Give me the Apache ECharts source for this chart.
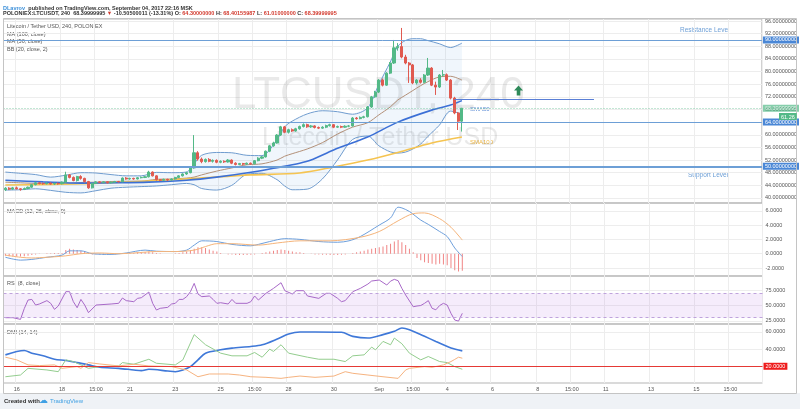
<!DOCTYPE html>
<html><head><meta charset="utf-8">
<script src="https://cdn.jsdelivr.net/npm/echarts@6/dist/echarts.min.js"></script>
<style>html,body{margin:0;padding:0;background:#fff}#c{width:800px;height:409px}</style>
</head><body><div id="c"></div>
<script>
// ---------- categories (4h bars, exchange time) ----------
const barCount = 201;
const startMs = Date.UTC(2017, 7, 15, 15, 0);
const categories = Array.from({length: barCount}, (_, i) =>
  new Date(startMs + i * 4 * 3600000).toISOString().slice(0, 16).replace('T', ' '));
const xTickLabels = {
  '2017-08-16 03:00': '16', '2017-08-18 03:00': '18', '2017-08-19 15:00': '15:00', '2017-08-21 03:00': '21',
  '2017-08-23 03:00': '23', '2017-08-25 03:00': '25', '2017-08-26 15:00': '15:00', '2017-08-28 03:00': '28',
  '2017-08-30 03:00': '30', '2017-09-01 03:00': 'Sep', '2017-09-02 15:00': '15:00', '2017-09-04 03:00': '4',
  '2017-09-06 03:00': '6', '2017-09-08 03:00': '8', '2017-09-09 15:00': '15:00', '2017-09-11 03:00': '11',
  '2017-09-13 03:00': '13', '2017-09-15 03:00': '15', '2017-09-16 15:00': '15:00'
};

// ---------- candles: [open, close, low, high] ----------
const ohlc = [
[42.6,43.1,42.2,43.4],[43.1,42.8,42.5,43.4],[42.8,43.2,42.6,43.5],[43.2,42.9,42.7,43.6],[42.9,42.7,42.3,43.1],
[42.7,43.0,42.5,43.3],[43.0,43.4,42.8,43.6],[43.4,44.2,43.2,44.4],[44.2,44.8,44.0,45.1],[44.8,44.6,44.3,45.0],
[44.6,44.5,44.2,44.9],[44.5,44.7,44.3,45.0],[44.7,44.4,44.2,44.9],[44.4,44.6,44.1,44.8],[44.6,44.5,44.2,44.9],
[44.5,45.0,44.3,45.2],[45.0,47.3,44.9,48.3],[47.3,46.5,46.2,47.6],[46.5,45.5,45.3,46.8],[45.5,46.8,45.2,47.0],
[46.8,46.2,45.8,47.2],[46.2,45.2,44.9,46.4],[45.2,43.2,42.9,45.4],[43.2,44.6,43.0,44.8],[44.6,45.1,44.4,45.3],
[45.1,44.9,44.7,45.3],[44.9,45.1,44.7,45.3],[45.1,44.8,44.6,45.3],[44.8,45.0,44.6,45.2],[45.0,45.2,44.8,45.4],
[45.2,45.1,44.9,45.4],[45.1,46.3,45.0,46.5],[46.3,46.0,45.8,46.6],[46.0,46.2,45.8,46.4],[46.2,46.0,45.8,46.4],
[46.0,46.4,45.9,46.6],[46.4,46.5,46.2,46.8],[46.5,46.7,46.3,47.0],[46.7,48.2,46.5,48.6],[48.2,47.0,46.8,48.4],
[47.0,45.8,45.5,47.2],[45.8,45.6,45.3,46.0],[45.6,45.9,45.4,46.1],[45.9,45.7,45.4,46.1],[45.7,46.0,45.5,46.2],
[46.0,46.5,45.8,46.7],[46.5,47.0,46.3,47.2],[47.0,47.6,46.8,47.8],[47.6,48.0,47.3,48.3],[48.0,49.5,47.8,49.8],
[49.5,54.3,49.3,59.9],[54.3,52.3,51.8,54.8],[52.3,51.5,51.0,52.8],[51.5,52.2,51.2,52.5],[52.2,51.6,51.3,52.6],
[51.6,51.9,51.2,52.2],[51.9,51.3,51.0,52.2],[51.3,51.6,51.0,51.9],[51.6,51.4,51.1,51.9],[51.4,52.0,51.2,52.3],
[52.0,51.0,50.7,52.2],[51.0,50.6,50.3,51.3],[50.6,50.9,50.4,51.1],[50.9,50.7,50.4,51.1],[50.7,51.0,50.5,51.2],
[51.0,50.8,50.5,51.2],[50.8,51.8,50.6,52.0],[51.8,52.6,51.6,52.9],[52.6,53.0,52.3,53.3],[53.0,54.8,52.8,55.0],
[54.8,56.5,54.5,56.8],[56.5,57.4,56.2,57.8],[57.4,59.9,57.2,60.2],[59.9,62.5,59.6,62.8],[62.5,60.8,60.5,62.8],
[60.8,61.6,60.4,61.9],[61.6,61.2,60.9,62.0],[61.2,61.9,61.0,62.2],[61.9,62.6,61.6,62.9],[62.6,63.2,62.3,63.6],
[63.2,62.5,62.2,63.5],[62.5,62.8,62.2,63.1],[62.8,62.3,62.0,63.0],[62.3,62.1,61.8,62.6],[62.1,62.4,61.9,62.7],
[62.4,62.9,62.1,63.2],[62.9,63.2,62.6,63.5],[63.2,62.4,62.1,63.4],[62.4,62.6,62.2,62.9],[62.6,62.4,62.1,62.9],
[62.4,62.7,62.2,63.0],[62.7,62.8,62.4,63.1],[62.8,65.3,62.6,65.6],[65.3,65.1,64.8,65.6],[65.1,65.5,64.9,65.8],
[65.5,65.7,65.2,66.0],[65.7,68.8,65.5,69.1],[68.8,72.0,68.5,72.3],[72.0,73.5,71.7,73.9],[73.5,77.3,73.2,77.6],
[77.3,75.7,75.3,77.8],[75.7,79.5,75.5,79.8],[79.5,82.7,79.2,83.0],[82.7,87.5,82.4,90.0],[87.5,87.9,86.6,89.0],
[87.9,84.6,84.2,93.8],[84.6,82.7,82.3,85.3],[82.7,82.1,76.4,83.0],[82.1,76.4,76.0,82.4],[76.4,77.3,75.9,77.6],
[77.3,76.6,76.2,77.9],[76.6,78.9,76.3,79.2],[78.9,81.1,78.6,84.3],[81.1,75.7,75.4,81.4],[75.7,75.1,72.6,76.8],
[75.1,78.9,74.8,79.2],[78.9,79.0,78.4,80.5],[79.0,77.3,77.0,79.4],[77.3,71.6,71.2,77.6],[71.6,66.9,66.5,72.0],
[66.9,64.3,61.5,67.2],[64.3,68.39999995,61.01,68.40155987]
];

// ---------- Bollinger Bands (20, 2) read at bar indices ----------
const bbIdx   = [0,4,8,12,16,20,24,28,32,36,40,44,48,50,52,56,60,64,68,72,74,76,80,84,88,92,96,99,102,104,106,108,110,112,115,118,121];
const bbUpper = [48.2,47.8,47.4,46.6,47.2,48.0,47.9,47.4,47.0,47.0,48.1,48.0,48.2,50.8,53.5,54.4,54.3,53.5,53.4,58.5,62.5,64.3,66.6,67.6,67.3,66.5,68.5,76.0,83.0,88.0,89.8,90.4,90.4,89.8,88.8,87.6,89.0];
const bbBasis = [45.0,44.8,44.6,44.5,44.6,44.9,45.0,45.2,45.3,45.3,45.9,46.0,46.3,46.6,47.3,48.5,49.5,50.5,50.8,52.0,53.2,54.0,55.5,57.5,60.2,62.4,63.8,66.3,68.8,71.0,72.5,74.0,75.5,76.8,78.3,78.5,77.3];
const bbLower = [42.5,42.6,42.9,42.4,41.8,41.6,42.3,43.1,43.4,43.6,43.8,44.2,44.6,44.2,43.0,42.5,44.0,47.5,47.8,45.8,43.8,42.6,42.8,46.0,52.0,58.5,59.6,56.5,54.6,54.2,54.5,55.5,57.0,59.5,63.0,67.5,66.5];

// ---------- moving averages [barIndex, value] ----------
const ma50  = [[0,45.6],[10,45.1],[20,44.7],[30,44.8],[38,45.0],[48,45.6],[56,46.6],[66,48.3],[72,49.6],[78,51.0],[81,52.0],[87,55.2],[96,59.3],[104,64.0],[113,67.8],[118,69.4],[121,70.8]];
const ma100 = [[0,44.1],[20,44.5],[38,45.4],[50,46.2],[65,47.3],[78,47.9],[87,49.8],[96,52.0],[104,54.4],[113,57.4],[121,59.3]];

// ---------- drawn levels ----------
const levelPrices = [90, 64, 50];
const rayLevel = 71.3, rayFrom = 119, rayTo = 156;
const arrowBar = 136, arrowPrice = 74.0;

// ---------- MACD (12, 26, close, 9) ----------
const macdLine = [[0,-0.5],[4,-0.9],[7,-0.8],[11,-0.5],[15,-0.2],[17,0.4],[20,0.4],[23,0.0],[28,-0.1],[32,0.1],[37,0.5],[40,0.35],[45,0.3],[48,0.5],[50,1.2],[52,1.8],[56,1.7],[60,1.3],[65,1.1],[67,1.3],[70,1.7],[74,2.1],[78,2.0],[83,1.7],[88,1.6],[91,1.8],[94,2.4],[99,4.0],[102,5.0],[104,6.5],[105,6.4],[107,5.9],[110,4.7],[112,4.1],[115,3.1],[117,2.4],[119,0.8],[121,-0.4]];
const macdSignal = [[0,-0.2],[4,-0.5],[7,-0.6],[11,-0.5],[16,-0.3],[20,0.0],[25,0.1],[30,0.0],[34,0.1],[40,0.3],[45,0.3],[50,0.5],[53,1.0],[56,1.4],[60,1.4],[67,1.2],[72,1.5],[78,1.8],[86,1.8],[94,2.3],[99,3.1],[104,4.6],[108,5.6],[111,5.7],[115,4.9],[118,3.7],[121,1.9]];
const macdHist = [-0.3,-0.35,-0.4,-0.4,-0.4,-0.35,-0.3,-0.2,-0.1,-0.05,0.0,0.05,0.05,0.1,0.1,0.1,0.5,0.7,0.6,0.5,
0.4,0.3,0.1,-0.1,-0.1,-0.1,-0.15,-0.15,-0.1,-0.1,-0.05,0.05,0.1,0.1,0.1,0.2,0.2,0.25,0.3,0.2,
0.1,0.05,0.0,0.0,0.0,0.05,0.1,0.2,0.3,0.5,0.7,0.9,0.9,0.8,0.6,0.4,0.3,0.1,0.0,-0.1,
-0.1,-0.2,-0.2,-0.2,-0.2,-0.15,-0.1,0.0,0.1,0.2,0.3,0.4,0.5,0.6,0.5,0.4,0.3,0.2,0.2,0.1,
0.0,-0.05,-0.1,-0.1,-0.15,-0.15,-0.2,-0.2,-0.2,-0.15,-0.1,0.0,0.1,0.2,0.3,0.4,0.6,0.7,0.8,0.9,
1.0,1.2,1.4,1.7,1.9,1.6,1.2,0.7,0.2,-0.6,-0.9,-1.2,-1.3,-1.4,-1.5,-1.4,-1.5,-1.6,-2.0,-2.3,-2.5,-2.4];

// ---------- RSI (8) ----------
const rsi = [[0,30],[2,30],[4,27.3],[5,45],[6,59],[7,60],[8,50.8],[9,52.5],[11,58],[12,53.6],[13,43.7],[14,49.2],[16,72.7],[17,72.7],[18,56.3],[19,46.4],[20,60],[21,50.8],[22,38.3],[24,50.8],[28,52.5],[30,53.6],[31,62.3],[32,58],[34,56.3],[35,61.7],[36,62.8],[38,72.1],[39,53.6],[40,42.6],[41,45.4],[43,47],[44,52.5],[45,53.6],[46,60],[47,60],[48,64.5],[49,72.7],[50,86.3],[51,68.9],[52,64.5],[54,65.6],[55,60],[56,53.6],[57,54.6],[59,52.5],[60,60],[61,53.6],[64,53.6],[65,56.3],[66,65.6],[67,59],[69,70],[71,78.1],[73,87.4],[74,74.3],[76,68.9],[77,74.3],[79,74.3],[80,65.6],[83,61.7],[85,70],[86,70],[88,61.7],[89,56.3],[90,58],[92,72.7],[93,75.4],[94,78.1],[96,85.2],[97,90.2],[99,91.8],[101,83.6],[102,90],[103,92.9],[104,90.7],[105,78.1],[106,67.2],[108,48],[109,49.2],[110,50],[111,53.6],[112,58],[113,45.4],[114,43],[115,50],[116,53.6],[117,50.8],[118,37.2],[119,26.2],[120,24.5],[121,37.2]];
const rsiBands = [30, 70];

// ---------- DMI (14, 14) ----------
const adx = [[0,33.3],[5,38.4],[7,35.3],[10,32.2],[13,28.2],[16,26.7],[19,24.3],[22,21.6],[25,18.8],[30,17.6],[34,15.7],[36,14.9],[38,16.5],[43,14.5],[45,13.7],[47,15.7],[49,19.6],[51,27.5],[53,35.3],[57,39.2],[60,41.2],[65,43.1],[68,45.1],[72,51.8],[75,57.6],[78,60],[82,60],[89,59.6],[92,54.9],[96,52.9],[100,56.9],[103,60.8],[105,64.7],[107,62.7],[111,54.9],[114,49],[118,41.2],[121,38]];
const plusDI = [[0,7.8],[4,9.8],[6,17.6],[11,15.7],[14,13.7],[16,27.5],[18,25.5],[20,21.6],[22,17.6],[25,19.6],[30,20.4],[31,24.3],[34,22.4],[38,28.2],[40,23.5],[45,21.6],[47,27.5],[50,56.9],[53,45.1],[57,35.3],[60,32.2],[64,32.2],[66,36.1],[68,30.6],[70,40],[71,37.3],[73,45.1],[75,35.3],[80,30.6],[83,28.2],[87,28.2],[90,25.5],[92,32.2],[95,33.3],[97,42.4],[98,39.2],[100,49],[102,45.1],[103,52.9],[105,46.3],[107,35.3],[110,27.5],[112,31.4],[115,25.5],[117,24.3],[119,19.6],[121,16.5]];
const minusDI = [[0,30.6],[3,27.5],[6,21.6],[9,20.8],[13,21.6],[15,17.6],[19,19.6],[20,17.6],[22,24.3],[25,22.7],[30,20.4],[34,22.4],[38,20.4],[44,19.6],[48,15.7],[51,7.8],[54,11],[59,11],[62,9.8],[65,7.8],[69,7.1],[73,5.9],[75,7.1],[78,8.6],[82,7.1],[87,8.6],[90,13.7],[92,11.8],[96,9.8],[100,7.8],[104,5.9],[106,15.7],[107,17.6],[111,19.6],[113,18.8],[116,21.6],[118,25.5],[119,28],[120,30.6],[121,29.4]];
const dmiLevel = 20;

// ---------- axis tick values ----------
const priceTicks = [40,44,48,52,56,60,64,68,72,76,80,84,88,92,96];
const macdTicks = [-2,0,2,4,6];
const rsiTicks = [25,50,75];
const dmiTicks = [20,40,60];

// ================= chart =================
const FONT = 'Liberation Sans';
const last = ohlc[ohlc.length - 1];
const upColor = '#53b987', downColor = '#e05a50';
const gridLine = {show: true, lineStyle: {color: '#ededed', width: 1}};
const isTick = (i, v) => xTickLabels[v] !== undefined;

function xAx(g, showLabel) {
  return {
    type: 'category', gridIndex: g, data: categories, boundaryGap: true,
    axisLine: {show: false}, axisTick: {show: false},
    axisLabel: {show: showLabel, interval: isTick, formatter: v => xTickLabels[v] || '',
      fontSize: 5.5, color: '#555', margin: 3, fontFamily: FONT},
    splitLine: {show: true, interval: isTick, lineStyle: {color: '#ededed'}}
  };
}
function yAx(g, min, max, ticks, digits) {
  return {
    type: 'value', gridIndex: g, position: 'right', min: min, max: max,
    axisLine: {show: false},
    axisTick: {show: false, customValues: ticks},
    axisLabel: {customValues: ticks, formatter: v => Number(v).toFixed(digits),
      fontSize: 5.5, color: '#555', margin: 3, fontFamily: FONT},
    splitLine: gridLine
  };
}
function tag(bg, digits) {
  return {show: true, position: 'end', distance: 1, formatter: p => Number(p.value).toFixed(digits),
    color: '#fff', backgroundColor: bg, padding: [1, 2, 0, 2], fontSize: 5.5, fontFamily: FONT};
}
const pairs = (idx, vals) => idx.map((ix, k) => [ix, vals[k]]);

const gl = 3.5, gr = 37.5;
const option = {
  animation: false,
  backgroundColor: '#ffffff',
  grid: [
    {left: gl, right: gr, top: 19, height: 184, show: true, borderColor: '#b5b5b5', borderWidth: 1},
    {left: gl, right: gr, top: 203, height: 73, show: true, borderColor: '#b5b5b5', borderWidth: 1},
    {left: gl, right: gr, top: 276, height: 48, show: true, borderColor: '#b5b5b5', borderWidth: 1},
    {left: gl, right: gr, top: 324, height: 59, show: true, borderColor: '#b5b5b5', borderWidth: 1}
  ],
  xAxis: [xAx(0, false), xAx(1, false), xAx(2, false), xAx(3, true)],
  yAxis: [
    yAx(0, 38.41, 96.63, priceTicks, 8),
    yAx(1, -3.12, 7.09, macdTicks, 4),
    yAx(2, 19.7, 98.4, rsiTicks, 4),
    yAx(3, 0.5, 69.3, dmiTicks, 4)
  ],
  graphic: [
    {type: 'rect', z: -10, shape: {x: 0, y: 393, width: 800, height: 16}, style: {fill: '#eff2f6'}},
    {type: 'rect', z: 10, shape: {x: 3.5, y: 18.5, width: 793, height: 375}, style: {fill: 'none', stroke: '#c4c4c4', lineWidth: 1}},
    {type: 'text', left: 382 - 150, top: 74, z: 1, style: {text: 'LTCUSDT, 240', font: '44px "Liberation Sans"', fill: 'rgba(70,70,70,0.12)'}},
    {type: 'text', left: 262, top: 126, z: 1, style: {text: 'Litecoin / Tether USD', font: '25px "Liberation Sans"', fill: 'rgba(70,70,70,0.12)'}},
    {type: 'text', left: 3, top: 2, style: {text: '{u|DLavrov} {t|published on TradingView.com, September 04, 2017 22:16 MSK}',
      rich: {u: {fill: '#3b8fd9', fontSize: 5.5, fontWeight: 'bold', fontFamily: FONT}, t: {fill: '#333', fontSize: 5.5, fontWeight: 'bold', fontFamily: FONT}}}},
    {type: 'text', left: 3, top: 10, style: {
      text: '{t|POLONIEX:LTCUSDT, 240  ' + last[1].toFixed(8) + ' }{r|▼}{t| -10.50500011 (-13.31%) O: }{r|' + last[0].toFixed(8) + '}{t| H: }{r|' + last[3].toFixed(8) + '}{t| L: }{r|' + last[2].toFixed(8) + '}{t| C: }{r|' + last[1].toFixed(8) + '}',
      rich: {t: {fill: '#333', fontSize: 5.5, fontWeight: 'bold', fontFamily: FONT}, r: {fill: '#d23a2e', fontSize: 5.5, fontWeight: 'bold', fontFamily: FONT}}}},
    {type: 'text', left: 7, top: 23, style: {text: 'Litecoin / Tether USD, 240, POLONIEX', fill: '#555', font: '5.5px "Liberation Sans"'}},
    {type: 'text', left: 7, top: 31, style: {text: 'MA (100, close)', fill: '#555', font: '5.5px "Liberation Sans"'}},
    {type: 'text', left: 7, top: 38.5, style: {text: 'MA (50, close)', fill: '#555', font: '5.5px "Liberation Sans"'}},
    {type: 'text', left: 7, top: 46, style: {text: 'BB (20, close, 2)', fill: '#555', font: '5.5px "Liberation Sans"'}},
    {type: 'text', left: 7, top: 208.5, style: {text: 'MACD (12, 26, close, 9)', fill: '#555', font: '5.5px "Liberation Sans"'}},
    {type: 'text', left: 7, top: 280.5, style: {text: 'RSI (8, close)', fill: '#555', font: '5.5px "Liberation Sans"'}},
    {type: 'text', left: 7, top: 329.5, style: {text: 'DMI (14, 14)', fill: '#555', font: '5.5px "Liberation Sans"'}},
    {type: 'text', left: 680, top: 27, style: {text: 'Resistance Level', fill: '#6d9fd6', font: '6.5px "Liberation Sans"'}},
    {type: 'text', left: 688, top: 171.5, style: {text: 'Support Level', fill: '#6d9fd6', font: '6.5px "Liberation Sans"'}},
    {type: 'text', left: 470, top: 106.5, style: {text: 'SMA50', fill: '#5b8bd6', font: '6px "Liberation Sans"'}},
    {type: 'text', left: 470, top: 139.5, style: {text: 'SMA100', fill: '#f0b63e', font: '6px "Liberation Sans"'}},
    {type: 'text', left: 779, top: 113, z: 20, style: {text: '61.26', fill: '#fff', backgroundColor: upColor, padding: [1, 2, 0, 2], font: '5.5px "Liberation Sans"'}},
    {type: 'text', left: 4, top: 398, style: {text: 'Created with', fill: '#333', font: 'bold 6px "Liberation Sans"'}},
    {type: 'text', left: 39, top: 396, style: {text: '☁', fill: '#3fa0e4', font: '9px "DejaVu Sans"'}},
    {type: 'text', left: 50, top: 398, style: {text: 'TradingView', fill: '#3fa0e4', font: '6px "Liberation Sans"'}}
  ],
  series: [
    { // BB background fill
      type: 'custom', xAxisIndex: 0, yAxisIndex: 0, silent: true, z: 1, data: [[0, bbBasis[0]]],
      renderItem: (params, api) => {
        const pts = [];
        bbIdx.forEach((ix, k) => pts.push(api.coord([ix, bbUpper[k]])));
        for (let k = bbIdx.length - 1; k >= 0; k--) pts.push(api.coord([bbIdx[k], bbLower[k]]));
        return {type: 'polygon', shape: {points: pts, smooth: 0}, style: {fill: 'rgba(60,140,220,0.08)'}};
      }
    },
    {type: 'line', xAxisIndex: 0, yAxisIndex: 0, data: pairs(bbIdx, bbUpper), smooth: 0.3, symbol: 'none', z: 2, lineStyle: {color: '#6f9ccf', width: 1}},
    {type: 'line', xAxisIndex: 0, yAxisIndex: 0, data: pairs(bbIdx, bbLower), smooth: 0.3, symbol: 'none', z: 2, lineStyle: {color: '#6f9ccf', width: 1}},
    {type: 'line', xAxisIndex: 0, yAxisIndex: 0, data: pairs(bbIdx, bbBasis), smooth: 0.3, symbol: 'none', z: 2, lineStyle: {color: '#b39078', width: 1}},
    {type: 'line', xAxisIndex: 0, yAxisIndex: 0, data: ma100, smooth: 0.3, symbol: 'none', z: 3, lineStyle: {color: '#f5c451', width: 1.6}},
    {type: 'line', xAxisIndex: 0, yAxisIndex: 0, data: ma50, smooth: 0.3, symbol: 'none', z: 3, lineStyle: {color: '#3c70d6', width: 1.6}},
    {
      type: 'candlestick', xAxisIndex: 0, yAxisIndex: 0, data: ohlc, barWidth: 2.6, z: 4,
      itemStyle: {color: upColor, color0: downColor, borderColor: upColor, borderColor0: downColor, borderWidth: 1},
      markLine: {
        silent: true, symbol: ['none', 'none'], precision: 8,
        data: [
          ...levelPrices.map(p => ({yAxis: p, lineStyle: {color: '#6d9fd6', width: p === 50 ? 2 : 1, type: 'solid'}, label: tag('#4a87d6', 8)})),
          {yAxis: last[1], lineStyle: {color: upColor, width: 1, type: [1, 2], opacity: 0.7}, label: tag(upColor, 8)},
          [{coord: [rayFrom, rayLevel], lineStyle: {color: '#5a7fd6', width: 1, type: 'solid'}, label: {show: false}}, {coord: [rayTo, rayLevel]}]
        ]
      },
      markPoint: {
        silent: true,
        data: [{coord: [arrowBar, arrowPrice], symbol: 'path://M5,0 L10,5.5 L7,5.5 L7,11 L3,11 L3,5.5 L0,5.5 Z', symbolSize: [9, 10], itemStyle: {color: '#2f8a5a'}, label: {show: false}}]
      }
    },
    {type: 'bar', xAxisIndex: 1, yAxisIndex: 1, data: macdHist, barWidth: 1, itemStyle: {color: '#f08585'}, z: 2},
    {type: 'line', xAxisIndex: 1, yAxisIndex: 1, data: macdLine, smooth: 0.3, symbol: 'none', z: 3, lineStyle: {color: '#6d9fdc', width: 1}},
    {type: 'line', xAxisIndex: 1, yAxisIndex: 1, data: macdSignal, smooth: 0.3, symbol: 'none', z: 3, lineStyle: {color: '#f5b47a', width: 1}},
    {
      type: 'line', xAxisIndex: 2, yAxisIndex: 2, data: rsi, symbol: 'none', z: 3, lineStyle: {color: '#a869c8', width: 1},
      markArea: {silent: true, itemStyle: {color: 'rgba(170,100,225,0.12)'}, data: [[{yAxis: rsiBands[0]}, {yAxis: rsiBands[1]}]]},
      markLine: {silent: true, symbol: ['none', 'none'], label: {show: false}, lineStyle: {color: '#bfa3dc', type: [3, 3], width: 1},
        data: rsiBands.map(v => ({yAxis: v}))}
    },
    {type: 'line', xAxisIndex: 3, yAxisIndex: 3, data: adx, smooth: 0.3, symbol: 'none', z: 3, lineStyle: {color: '#3f78d8', width: 1.6}},
    {type: 'line', xAxisIndex: 3, yAxisIndex: 3, data: plusDI, symbol: 'none', z: 3, lineStyle: {color: '#93cd8e', width: 1}},
    {
      type: 'line', xAxisIndex: 3, yAxisIndex: 3, data: minusDI, symbol: 'none', z: 3, lineStyle: {color: '#f6b380', width: 1},
      markLine: {silent: true, symbol: ['none', 'none'], data: [{yAxis: dmiLevel, lineStyle: {color: '#e53935', width: 1, type: 'solid'}, label: tag('#ee1c1c', 4)}]}
    }
  ]
};
const chart = echarts.init(document.getElementById('c'));
chart.setOption(option);
</script></body></html>
